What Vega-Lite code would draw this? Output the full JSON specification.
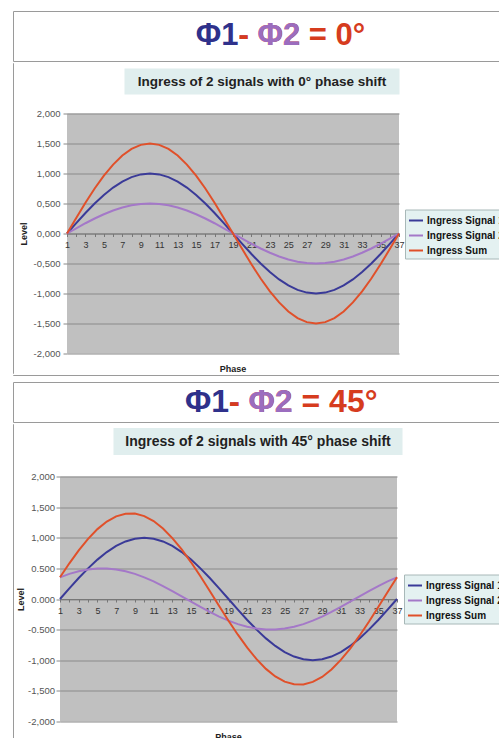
{
  "$schema": "https://vega.github.io/schema/vega-lite/v6.json",
  "background": "white",
  "padding": {"left": 12, "top": 10, "right": 0, "bottom": 0},
  "config": {
    "view": {"stroke": null},
    "font": "Liberation Sans"
  },
  "datasets": {
    "p0": [
      {"p":1,"s":"Ingress Signal 1","v":0},{"p":1,"s":"Ingress Signal 2","v":0},{"p":1,"s":"Ingress Sum","v":0},
      {"p":2,"s":"Ingress Signal 1","v":0.174},{"p":2,"s":"Ingress Signal 2","v":0.087},{"p":2,"s":"Ingress Sum","v":0.260},
      {"p":3,"s":"Ingress Signal 1","v":0.342},{"p":3,"s":"Ingress Signal 2","v":0.171},{"p":3,"s":"Ingress Sum","v":0.513},
      {"p":4,"s":"Ingress Signal 1","v":0.5},{"p":4,"s":"Ingress Signal 2","v":0.25},{"p":4,"s":"Ingress Sum","v":0.75},
      {"p":5,"s":"Ingress Signal 1","v":0.643},{"p":5,"s":"Ingress Signal 2","v":0.321},{"p":5,"s":"Ingress Sum","v":0.964},
      {"p":6,"s":"Ingress Signal 1","v":0.766},{"p":6,"s":"Ingress Signal 2","v":0.383},{"p":6,"s":"Ingress Sum","v":1.149},
      {"p":7,"s":"Ingress Signal 1","v":0.866},{"p":7,"s":"Ingress Signal 2","v":0.433},{"p":7,"s":"Ingress Sum","v":1.299},
      {"p":8,"s":"Ingress Signal 1","v":0.940},{"p":8,"s":"Ingress Signal 2","v":0.470},{"p":8,"s":"Ingress Sum","v":1.410},
      {"p":9,"s":"Ingress Signal 1","v":0.985},{"p":9,"s":"Ingress Signal 2","v":0.492},{"p":9,"s":"Ingress Sum","v":1.477},
      {"p":10,"s":"Ingress Signal 1","v":1},{"p":10,"s":"Ingress Signal 2","v":0.5},{"p":10,"s":"Ingress Sum","v":1.5},
      {"p":11,"s":"Ingress Signal 1","v":0.985},{"p":11,"s":"Ingress Signal 2","v":0.492},{"p":11,"s":"Ingress Sum","v":1.477},
      {"p":12,"s":"Ingress Signal 1","v":0.940},{"p":12,"s":"Ingress Signal 2","v":0.470},{"p":12,"s":"Ingress Sum","v":1.410},
      {"p":13,"s":"Ingress Signal 1","v":0.866},{"p":13,"s":"Ingress Signal 2","v":0.433},{"p":13,"s":"Ingress Sum","v":1.299},
      {"p":14,"s":"Ingress Signal 1","v":0.766},{"p":14,"s":"Ingress Signal 2","v":0.383},{"p":14,"s":"Ingress Sum","v":1.149},
      {"p":15,"s":"Ingress Signal 1","v":0.643},{"p":15,"s":"Ingress Signal 2","v":0.321},{"p":15,"s":"Ingress Sum","v":0.964},
      {"p":16,"s":"Ingress Signal 1","v":0.5},{"p":16,"s":"Ingress Signal 2","v":0.25},{"p":16,"s":"Ingress Sum","v":0.75},
      {"p":17,"s":"Ingress Signal 1","v":0.342},{"p":17,"s":"Ingress Signal 2","v":0.171},{"p":17,"s":"Ingress Sum","v":0.513},
      {"p":18,"s":"Ingress Signal 1","v":0.174},{"p":18,"s":"Ingress Signal 2","v":0.087},{"p":18,"s":"Ingress Sum","v":0.260},
      {"p":19,"s":"Ingress Signal 1","v":0},{"p":19,"s":"Ingress Signal 2","v":0},{"p":19,"s":"Ingress Sum","v":0},
      {"p":20,"s":"Ingress Signal 1","v":-0.174},{"p":20,"s":"Ingress Signal 2","v":-0.087},{"p":20,"s":"Ingress Sum","v":-0.260},
      {"p":21,"s":"Ingress Signal 1","v":-0.342},{"p":21,"s":"Ingress Signal 2","v":-0.171},{"p":21,"s":"Ingress Sum","v":-0.513},
      {"p":22,"s":"Ingress Signal 1","v":-0.5},{"p":22,"s":"Ingress Signal 2","v":-0.25},{"p":22,"s":"Ingress Sum","v":-0.75},
      {"p":23,"s":"Ingress Signal 1","v":-0.643},{"p":23,"s":"Ingress Signal 2","v":-0.321},{"p":23,"s":"Ingress Sum","v":-0.964},
      {"p":24,"s":"Ingress Signal 1","v":-0.766},{"p":24,"s":"Ingress Signal 2","v":-0.383},{"p":24,"s":"Ingress Sum","v":-1.149},
      {"p":25,"s":"Ingress Signal 1","v":-0.866},{"p":25,"s":"Ingress Signal 2","v":-0.433},{"p":25,"s":"Ingress Sum","v":-1.299},
      {"p":26,"s":"Ingress Signal 1","v":-0.940},{"p":26,"s":"Ingress Signal 2","v":-0.470},{"p":26,"s":"Ingress Sum","v":-1.410},
      {"p":27,"s":"Ingress Signal 1","v":-0.985},{"p":27,"s":"Ingress Signal 2","v":-0.492},{"p":27,"s":"Ingress Sum","v":-1.477},
      {"p":28,"s":"Ingress Signal 1","v":-1},{"p":28,"s":"Ingress Signal 2","v":-0.5},{"p":28,"s":"Ingress Sum","v":-1.5},
      {"p":29,"s":"Ingress Signal 1","v":-0.985},{"p":29,"s":"Ingress Signal 2","v":-0.492},{"p":29,"s":"Ingress Sum","v":-1.477},
      {"p":30,"s":"Ingress Signal 1","v":-0.940},{"p":30,"s":"Ingress Signal 2","v":-0.470},{"p":30,"s":"Ingress Sum","v":-1.410},
      {"p":31,"s":"Ingress Signal 1","v":-0.866},{"p":31,"s":"Ingress Signal 2","v":-0.433},{"p":31,"s":"Ingress Sum","v":-1.299},
      {"p":32,"s":"Ingress Signal 1","v":-0.766},{"p":32,"s":"Ingress Signal 2","v":-0.383},{"p":32,"s":"Ingress Sum","v":-1.149},
      {"p":33,"s":"Ingress Signal 1","v":-0.643},{"p":33,"s":"Ingress Signal 2","v":-0.321},{"p":33,"s":"Ingress Sum","v":-0.964},
      {"p":34,"s":"Ingress Signal 1","v":-0.5},{"p":34,"s":"Ingress Signal 2","v":-0.25},{"p":34,"s":"Ingress Sum","v":-0.75},
      {"p":35,"s":"Ingress Signal 1","v":-0.342},{"p":35,"s":"Ingress Signal 2","v":-0.171},{"p":35,"s":"Ingress Sum","v":-0.513},
      {"p":36,"s":"Ingress Signal 1","v":-0.174},{"p":36,"s":"Ingress Signal 2","v":-0.087},{"p":36,"s":"Ingress Sum","v":-0.260},
      {"p":37,"s":"Ingress Signal 1","v":0},{"p":37,"s":"Ingress Signal 2","v":0},{"p":37,"s":"Ingress Sum","v":0}
    ],
    "p45": [
      {"p":1,"s":"Ingress Signal 1","v":0},{"p":1,"s":"Ingress Signal 2","v":0.354},{"p":1,"s":"Ingress Sum","v":0.354},
      {"p":2,"s":"Ingress Signal 1","v":0.174},{"p":2,"s":"Ingress Signal 2","v":0.410},{"p":2,"s":"Ingress Sum","v":0.583},
      {"p":3,"s":"Ingress Signal 1","v":0.342},{"p":3,"s":"Ingress Signal 2","v":0.453},{"p":3,"s":"Ingress Sum","v":0.795},
      {"p":4,"s":"Ingress Signal 1","v":0.5},{"p":4,"s":"Ingress Signal 2","v":0.483},{"p":4,"s":"Ingress Sum","v":0.983},
      {"p":5,"s":"Ingress Signal 1","v":0.643},{"p":5,"s":"Ingress Signal 2","v":0.498},{"p":5,"s":"Ingress Sum","v":1.141},
      {"p":6,"s":"Ingress Signal 1","v":0.766},{"p":6,"s":"Ingress Signal 2","v":0.498},{"p":6,"s":"Ingress Sum","v":1.264},
      {"p":7,"s":"Ingress Signal 1","v":0.866},{"p":7,"s":"Ingress Signal 2","v":0.483},{"p":7,"s":"Ingress Sum","v":1.349},
      {"p":8,"s":"Ingress Signal 1","v":0.940},{"p":8,"s":"Ingress Signal 2","v":0.453},{"p":8,"s":"Ingress Sum","v":1.393},
      {"p":9,"s":"Ingress Signal 1","v":0.985},{"p":9,"s":"Ingress Signal 2","v":0.410},{"p":9,"s":"Ingress Sum","v":1.394},
      {"p":10,"s":"Ingress Signal 1","v":1},{"p":10,"s":"Ingress Signal 2","v":0.354},{"p":10,"s":"Ingress Sum","v":1.354},
      {"p":11,"s":"Ingress Signal 1","v":0.985},{"p":11,"s":"Ingress Signal 2","v":0.287},{"p":11,"s":"Ingress Sum","v":1.272},
      {"p":12,"s":"Ingress Signal 1","v":0.940},{"p":12,"s":"Ingress Signal 2","v":0.211},{"p":12,"s":"Ingress Sum","v":1.151},
      {"p":13,"s":"Ingress Signal 1","v":0.866},{"p":13,"s":"Ingress Signal 2","v":0.129},{"p":13,"s":"Ingress Sum","v":0.995},
      {"p":14,"s":"Ingress Signal 1","v":0.766},{"p":14,"s":"Ingress Signal 2","v":0.044},{"p":14,"s":"Ingress Sum","v":0.810},
      {"p":15,"s":"Ingress Signal 1","v":0.643},{"p":15,"s":"Ingress Signal 2","v":-0.044},{"p":15,"s":"Ingress Sum","v":0.599},
      {"p":16,"s":"Ingress Signal 1","v":0.5},{"p":16,"s":"Ingress Signal 2","v":-0.129},{"p":16,"s":"Ingress Sum","v":0.371},
      {"p":17,"s":"Ingress Signal 1","v":0.342},{"p":17,"s":"Ingress Signal 2","v":-0.211},{"p":17,"s":"Ingress Sum","v":0.131},
      {"p":18,"s":"Ingress Signal 1","v":0.174},{"p":18,"s":"Ingress Signal 2","v":-0.287},{"p":18,"s":"Ingress Sum","v":-0.113},
      {"p":19,"s":"Ingress Signal 1","v":0},{"p":19,"s":"Ingress Signal 2","v":-0.354},{"p":19,"s":"Ingress Sum","v":-0.354},
      {"p":20,"s":"Ingress Signal 1","v":-0.174},{"p":20,"s":"Ingress Signal 2","v":-0.410},{"p":20,"s":"Ingress Sum","v":-0.583},
      {"p":21,"s":"Ingress Signal 1","v":-0.342},{"p":21,"s":"Ingress Signal 2","v":-0.453},{"p":21,"s":"Ingress Sum","v":-0.795},
      {"p":22,"s":"Ingress Signal 1","v":-0.5},{"p":22,"s":"Ingress Signal 2","v":-0.483},{"p":22,"s":"Ingress Sum","v":-0.983},
      {"p":23,"s":"Ingress Signal 1","v":-0.643},{"p":23,"s":"Ingress Signal 2","v":-0.498},{"p":23,"s":"Ingress Sum","v":-1.141},
      {"p":24,"s":"Ingress Signal 1","v":-0.766},{"p":24,"s":"Ingress Signal 2","v":-0.498},{"p":24,"s":"Ingress Sum","v":-1.264},
      {"p":25,"s":"Ingress Signal 1","v":-0.866},{"p":25,"s":"Ingress Signal 2","v":-0.483},{"p":25,"s":"Ingress Sum","v":-1.349},
      {"p":26,"s":"Ingress Signal 1","v":-0.940},{"p":26,"s":"Ingress Signal 2","v":-0.453},{"p":26,"s":"Ingress Sum","v":-1.393},
      {"p":27,"s":"Ingress Signal 1","v":-0.985},{"p":27,"s":"Ingress Signal 2","v":-0.410},{"p":27,"s":"Ingress Sum","v":-1.394},
      {"p":28,"s":"Ingress Signal 1","v":-1},{"p":28,"s":"Ingress Signal 2","v":-0.354},{"p":28,"s":"Ingress Sum","v":-1.354},
      {"p":29,"s":"Ingress Signal 1","v":-0.985},{"p":29,"s":"Ingress Signal 2","v":-0.287},{"p":29,"s":"Ingress Sum","v":-1.272},
      {"p":30,"s":"Ingress Signal 1","v":-0.940},{"p":30,"s":"Ingress Signal 2","v":-0.211},{"p":30,"s":"Ingress Sum","v":-1.151},
      {"p":31,"s":"Ingress Signal 1","v":-0.866},{"p":31,"s":"Ingress Signal 2","v":-0.129},{"p":31,"s":"Ingress Sum","v":-0.995},
      {"p":32,"s":"Ingress Signal 1","v":-0.766},{"p":32,"s":"Ingress Signal 2","v":-0.044},{"p":32,"s":"Ingress Sum","v":-0.810},
      {"p":33,"s":"Ingress Signal 1","v":-0.643},{"p":33,"s":"Ingress Signal 2","v":0.044},{"p":33,"s":"Ingress Sum","v":-0.599},
      {"p":34,"s":"Ingress Signal 1","v":-0.5},{"p":34,"s":"Ingress Signal 2","v":0.129},{"p":34,"s":"Ingress Sum","v":-0.371},
      {"p":35,"s":"Ingress Signal 1","v":-0.342},{"p":35,"s":"Ingress Signal 2","v":0.211},{"p":35,"s":"Ingress Sum","v":-0.131},
      {"p":36,"s":"Ingress Signal 1","v":-0.174},{"p":36,"s":"Ingress Signal 2","v":0.287},{"p":36,"s":"Ingress Sum","v":0.113},
      {"p":37,"s":"Ingress Signal 1","v":0},{"p":37,"s":"Ingress Signal 2","v":0.354},{"p":37,"s":"Ingress Sum","v":0.354}
    ]
  },
  "spacing": 5,
  "resolve": {"scale": {"color": "independent"}, "legend": {"color": "independent"}},
  "vconcat": [
    {
      "spacing": 0,
      "resolve": {"scale": {"color": "independent"}, "legend": {"color": "independent"}},
      "vconcat": [
        {
          "width": 490, "height": 50,
          "view": {"stroke": "#9a9a9a", "fill": "white"},
          "data": {"values": [{}]},
          "layer": [
            {"mark": {"type": "text", "text": "Φ1", "align": "right", "baseline": "middle", "dx": -19.5, "fontSize": 31, "fontWeight": "bold", "color": "#2f318b"}, "encoding": {}},
            {"mark": {"type": "text", "text": "- Φ2 = 0°", "align": "left", "baseline": "middle", "dx": -19.5, "fontSize": 31, "fontWeight": "bold", "color": "#d63c1e"}, "encoding": {}},
            {"mark": {"type": "text", "text": "- Φ2", "align": "left", "baseline": "middle", "dx": -19.5, "fontSize": 31, "fontWeight": "bold", "color": "#9b6dbf"}, "encoding": {}},
            {"mark": {"type": "text", "text": "-", "align": "left", "baseline": "middle", "dx": -19.5, "fontSize": 31, "fontWeight": "bold", "color": "#d63c1e"}, "encoding": {}}
          ]
        },
        {
          "spacing": 5,
          "resolve": {"scale": {"color": "independent"}, "legend": {"color": "independent"}},
          "hconcat": [
            {"width": 0.01, "height": 310, "view": {"stroke": "#9a9a9a"}, "data": {"values": [{}]}, "mark": {"type": "point", "opacity": 0, "size": 0}, "encoding": {}},
            {
              "spacing": 8.5,
              "resolve": {"scale": {"color": "independent"}, "legend": {"color": "independent"}},
              "vconcat": [
                {
                  "width": 390, "height": 37,
                  "data": {"values": [{}]},
                  "layer": [
                    {"mark": {"type": "point", "shape": "M-1,-0.0945H1V0.0945H-1Z", "size": 75625, "filled": true, "color": "#e0eeee", "opacity": 1, "strokeWidth": 0}, "encoding": {}},
                    {"mark": {"type": "text", "text": "Ingress of 2 signals with  0° phase shift", "fontSize": 13.5, "fontWeight": "bold", "color": "#222222", "baseline": "middle"}, "encoding": {}}
                  ]
                },
                {
                  "width": 332, "height": 240,
                  "view": {"fill": "#c0c0c0", "stroke": null},
                  "data": {"name": "p0"},
                  "title": {"text": "Phase", "orient": "bottom", "anchor": "middle", "frame": "group", "fontSize": 9, "fontWeight": "bold", "offset": 7, "color": "#222222"},
                  "mark": {"type": "line", "strokeWidth": 2},
                  "encoding": {
                    "x": {"field": "p", "type": "quantitative", "scale": {"domain": [1, 37], "nice": false, "zero": false},
                      "axis": {"orient": "bottom", "offset": -120, "title": null, "values": [1,2,3,4,5,6,7,8,9,10,11,12,13,14,15,16,17,18,19,20,21,22,23,24,25,26,27,28,29,30,31,32,33,34,35,36,37],
                        "labelExpr": "datum.value % 2 == 1 ? datum.label : ''", "labelFontSize": 9, "labelColor": "#333333", "labelPadding": 4, "labelOverlap": false, "labelFlush": false,
                        "grid": false, "domainColor": "#777777", "tickColor": "#777777", "tickSize": 3}},
                    "y": {"field": "v", "type": "quantitative", "scale": {"domain": [-2, 2], "nice": false},
                      "axis": {"values": [-2, -1.5, -1, -0.5, 0, 0.5, 1, 1.5, 2],
                        "labelExpr": "replace(replace(format(datum.value, '.3f'), '.', ','), '−', '-')",
                        "title": "Level", "titleFontSize": 9, "titleFontWeight": "bold", "titleColor": "#222222", "titlePadding": 5,
                        "labelFontSize": 9.5, "labelColor": "#555555", "labelPadding": 3, "tickSize": 4, "tickColor": "#888888",
                        "domain": false, "gridColor": "#8a8a8a", "gridOpacity": 1, "labelFlush": false}},
                    "color": {"field": "s", "type": "nominal",
                      "scale": {"domain": ["Ingress Signal 1", "Ingress Signal 2", "Ingress Sum"], "range": ["#3a3a98", "#a478c8", "#e0502a"]},
                      "legend": {"title": null, "orient": "none", "legendX": 338, "legendY": 96, "fillColor": "#e4f1f1", "strokeColor": "#a8b8b8", "padding": 3,
                        "symbolType": "stroke", "symbolSize": 196, "symbolStrokeWidth": 2, "labelFontSize": 10, "labelFontWeight": "bold",
                        "labelColor": "#111111", "labelOffset": 3, "rowPadding": 2, "labelLimit": 0}}
                  }
                }
              ]
            }
          ]
        },
        {"width": 490, "height": 0.01, "view": {"stroke": "#9a9a9a"}, "data": {"values": [{}]}, "mark": {"type": "point", "opacity": 0, "size": 0}, "encoding": {}}
      ]
    },
    {
      "spacing": 0,
      "resolve": {"scale": {"color": "independent"}, "legend": {"color": "independent"}},
      "vconcat": [
        {
          "width": 490, "height": 40,
          "view": {"stroke": "#9a9a9a", "fill": "white"},
          "data": {"values": [{}]},
          "layer": [
            {"mark": {"type": "text", "text": "Φ1", "align": "right", "baseline": "middle", "dx": -29, "fontSize": 32, "fontWeight": "bold", "color": "#2f318b"}, "encoding": {}},
            {"mark": {"type": "text", "text": "- Φ2 = 45°", "align": "left", "baseline": "middle", "dx": -29, "fontSize": 32, "fontWeight": "bold", "color": "#d63c1e"}, "encoding": {}},
            {"mark": {"type": "text", "text": "- Φ2", "align": "left", "baseline": "middle", "dx": -29, "fontSize": 32, "fontWeight": "bold", "color": "#9b6dbf"}, "encoding": {}},
            {"mark": {"type": "text", "text": "-", "align": "left", "baseline": "middle", "dx": -29, "fontSize": 32, "fontWeight": "bold", "color": "#d63c1e"}, "encoding": {}}
          ]
        },
        {
          "spacing": 2,
          "resolve": {"scale": {"color": "independent"}, "legend": {"color": "independent"}},
          "hconcat": [
            {"width": 0.01, "height": 330, "view": {"stroke": "#9a9a9a"}, "data": {"values": [{}]}, "mark": {"type": "point", "opacity": 0, "size": 0}, "encoding": {}},
            {
              "spacing": 12.5,
              "resolve": {"scale": {"color": "independent"}, "legend": {"color": "independent"}},
              "vconcat": [
                {
                  "width": 396, "height": 35,
                  "data": {"values": [{}]},
                  "layer": [
                    {"mark": {"type": "point", "shape": "M-1,-0.0934H1V0.0934H-1Z", "size": 83521, "filled": true, "color": "#e0eeee", "opacity": 1, "strokeWidth": 0}, "encoding": {}},
                    {"mark": {"type": "text", "text": "Ingress of 2 signals with  45° phase shift", "fontSize": 14, "fontWeight": "bold", "color": "#222222", "baseline": "middle"}, "encoding": {}}
                  ]
                },
                {
                  "width": 337, "height": 245,
                  "view": {"fill": "#c0c0c0", "stroke": null},
                  "data": {"name": "p45"},
                  "title": {"text": "Phase", "orient": "bottom", "anchor": "middle", "frame": "group", "fontSize": 9, "fontWeight": "bold", "offset": 7, "color": "#222222"},
                  "mark": {"type": "line", "strokeWidth": 2},
                  "encoding": {
                    "x": {"field": "p", "type": "quantitative", "scale": {"domain": [1, 37], "nice": false, "zero": false},
                      "axis": {"orient": "bottom", "offset": -122.5, "title": null, "values": [1,2,3,4,5,6,7,8,9,10,11,12,13,14,15,16,17,18,19,20,21,22,23,24,25,26,27,28,29,30,31,32,33,34,35,36,37],
                        "labelExpr": "datum.value % 2 == 1 ? datum.label : ''", "labelFontSize": 9, "labelColor": "#333333", "labelPadding": 4, "labelOverlap": false, "labelFlush": false,
                        "grid": false, "domainColor": "#777777", "tickColor": "#777777", "tickSize": 3}},
                    "y": {"field": "v", "type": "quantitative", "scale": {"domain": [-2, 2], "nice": false},
                      "axis": {"values": [-2, -1.5, -1, -0.5, 0, 0.5, 1, 1.5, 2],
                        "labelExpr": "abs(datum.value) < 1 ? replace(format(datum.value, '.3f'), '−', '-') : replace(replace(format(datum.value, '.3f'), '.', ','), '−', '-')",
                        "title": "Level", "titleFontSize": 9, "titleFontWeight": "bold", "titleColor": "#222222", "titlePadding": 2,
                        "labelFontSize": 9.5, "labelColor": "#555555", "labelPadding": 1.5, "tickSize": 4, "tickColor": "#888888",
                        "domain": false, "gridColor": "#8a8a8a", "gridOpacity": 1, "labelFlush": false}},
                    "color": {"field": "s", "type": "nominal",
                      "scale": {"domain": ["Ingress Signal 1", "Ingress Signal 2", "Ingress Sum"], "range": ["#3a3a98", "#a478c8", "#e0502a"]},
                      "legend": {"title": null, "orient": "none", "legendX": 344, "legendY": 98, "fillColor": "#e4f1f1", "strokeColor": "#a8b8b8", "padding": 3,
                        "symbolType": "stroke", "symbolSize": 196, "symbolStrokeWidth": 2, "labelFontSize": 10, "labelFontWeight": "bold",
                        "labelColor": "#111111", "labelOffset": 3, "rowPadding": 2, "labelLimit": 0}}
                  }
                }
              ]
            }
          ]
        }
      ]
    }
  ]
}
